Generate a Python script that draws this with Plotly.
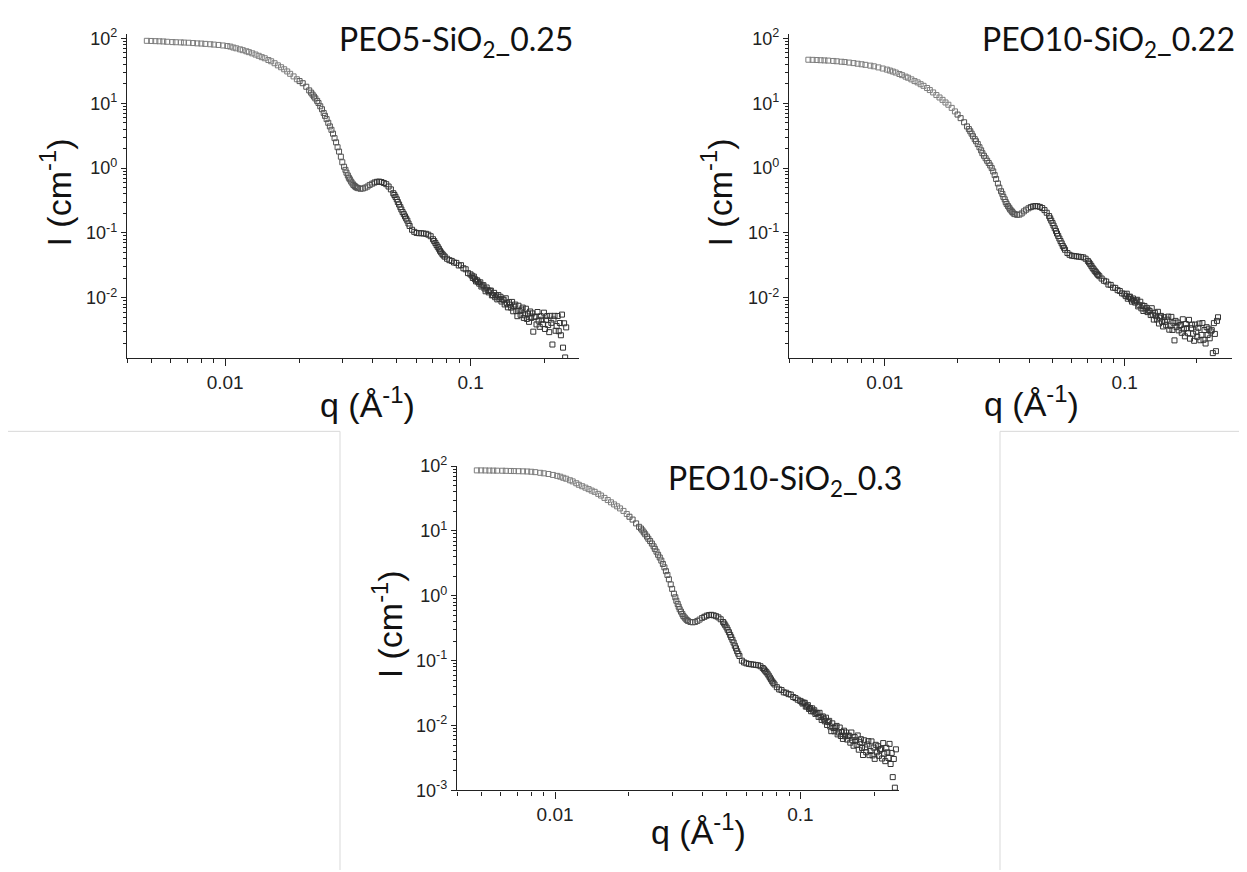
import math
import plotly.graph_objects as go

# ---------------- data ----------------
q = [
    # plateau
    0.0048, 0.0050, 0.0052, 0.0054, 0.0056, 0.0058, 0.0061, 0.0063, 0.0066, 0.0068,
    0.0071, 0.0074, 0.0077, 0.0080, 0.0083, 0.0087, 0.0090, 0.0094, 0.0098,
    # Guinier knee
    0.0102, 0.0105, 0.0108, 0.0111, 0.0115, 0.0118, 0.0122, 0.0125, 0.0129, 0.0133,
    0.0137, 0.0141, 0.0145, 0.0150, 0.0154, 0.0159, 0.0164, 0.0169, 0.0174, 0.0179,
    0.0184, 0.0190, 0.0196, 0.0201, 0.0207, 0.0214,
    # steep drop
    0.0220, 0.0224, 0.0227, 0.0230, 0.0233, 0.0237, 0.0240, 0.0244, 0.0248, 0.0252,
    0.0255, 0.0259, 0.0263, 0.0267, 0.0271, 0.0275, 0.0279, 0.0283, 0.0287, 0.0291,
    0.0296, 0.0300,
    # first minimum
    0.0305, 0.0309, 0.0312, 0.0316, 0.0319, 0.0322, 0.0326, 0.0330, 0.0333, 0.0337,
    0.0340, 0.0344,
    # first maximum
    0.0348, 0.0356, 0.0364, 0.0372, 0.0380, 0.0388, 0.0397, 0.0406, 0.0415, 0.0424,
    0.0433, 0.0443, 0.0453, 0.0463, 0.0473, 0.0484,
    0.0489, 0.0494, 0.0500, 0.0505, 0.0511, 0.0517, 0.0522, 0.0528, 0.0534, 0.0540,
    0.0546, 0.0552, 0.0558, 0.0564,
    # second shoulder
    0.0577, 0.0589, 0.0602, 0.0616, 0.0629, 0.0643, 0.0658, 0.0672, 0.0687, 0.0702,
    0.0710, 0.0718,
    0.0726, 0.0734, 0.0742, 0.0750, 0.0758, 0.0767, 0.0775, 0.0784, 0.0801, 0.0819,
    0.0837, 0.0855,
    0.0874, 0.0894, 0.0913, 0.0934, 0.0954, 0.0975, 0.0997,
    # noisy high-q tail
    0.1010, 0.1020, 0.1030, 0.1041, 0.1051, 0.1062, 0.1072, 0.1083, 0.1094, 0.1105,
    0.1116, 0.1127, 0.1138, 0.1150, 0.1161, 0.1173, 0.1185, 0.1196, 0.1208, 0.1220,
    0.1233, 0.1245, 0.1257, 0.1270, 0.1283, 0.1296, 0.1309, 0.1322, 0.1335, 0.1348,
    0.1362, 0.1375, 0.1389, 0.1403, 0.1417, 0.1431, 0.1445, 0.1460, 0.1474, 0.1489,
    0.1504, 0.1519, 0.1534, 0.1549, 0.1565, 0.1581, 0.1596, 0.1612, 0.1628, 0.1645,
    0.1661, 0.1678, 0.1694, 0.1711, 0.1728, 0.1746, 0.1763, 0.1781, 0.1798, 0.1816,
    0.1835, 0.1853, 0.1871, 0.1890, 0.1909, 0.1928, 0.1947, 0.1967, 0.1987, 0.2006,
    0.2026, 0.2047, 0.2067, 0.2088, 0.2109, 0.2130, 0.2151, 0.2173, 0.2194, 0.2216,
    0.2238, 0.2261, 0.2283, 0.2306, 0.2329, 0.2353, 0.2376, 0.2400, 0.2424, 0.2448,
]

I_peo5_025 = [
    92, 91.5, 91, 90.5, 90, 89, 88, 87.5, 87, 86.5,
    86, 85, 84, 83.5, 82.5, 81.5, 80.5, 79.5, 78,
    76.5, 75, 72.5, 70.5, 68, 66, 63.5, 61.5, 59, 56.5,
    54, 51.5, 49.5, 46.5, 44.5, 41.5, 38.5, 36, 33.5, 31,
    28.5, 26, 23.5, 22, 20.4, 18,
    15.8, 14.6, 13.6, 12.7, 11.9, 10.9, 10.1, 9.0, 8.1, 7.1,
    6.4, 5.7, 5.0, 4.4, 3.9, 3.4, 2.9, 2.5, 2.1, 1.8,
    1.5, 1.23,
    1.05, 0.94, 0.85, 0.77, 0.71, 0.67, 0.62, 0.58, 0.55, 0.53,
    0.51, 0.50,
    0.49, 0.48, 0.485, 0.50, 0.52, 0.55, 0.575, 0.60, 0.615, 0.62,
    0.61, 0.59, 0.565, 0.52, 0.47, 0.41,
    0.385, 0.36, 0.33, 0.30, 0.275, 0.25, 0.23, 0.21, 0.195, 0.18,
    0.167, 0.155, 0.14, 0.128,
    0.112, 0.104, 0.100, 0.099, 0.099, 0.098, 0.097, 0.094, 0.089, 0.080,
    0.075, 0.070,
    0.065, 0.061, 0.057, 0.053, 0.050, 0.047, 0.045, 0.043, 0.040, 0.038,
    0.037, 0.035,
    0.0345, 0.0315, 0.0318, 0.0285, 0.0275, 0.0240, 0.0230,
    0.0220, 0.0202, 0.0212, 0.0193, 0.0179, 0.0186, 0.0176, 0.0165, 0.0173, 0.0149,
    0.0155, 0.0156, 0.0139, 0.0126, 0.0144, 0.0131, 0.0121, 0.0128, 0.0129, 0.0109,
    0.0110, 0.0119, 0.0102, 0.0108, 0.00944, 0.0110, 0.00962, 0.01035, 0.00875, 0.00942,
    0.00935, 0.00789, 0.00982, 0.00815, 0.00711, 0.00855, 0.00783, 0.00705, 0.00863, 0.00619,
    0.00733, 0.00785, 0.00625, 0.0052, 0.00753, 0.00627, 0.00546, 0.00658, 0.00705, 0.00489,
    0.00536, 0.00678, 0.00471, 0.0057, 0.00425, 0.00614, 0.00489, 0.00574, 0.0030, 0.00507,
    0.00513, 0.00388, 0.00603, 0.00443, 0.00356, 0.0052, 0.00458, 0.00391, 0.00589, 0.0033,
    0.00459, 0.00522, 0.00379, 0.00295, 0.00526, 0.0041, 0.0019, 0.00462, 0.00526, 0.0031,
    0.00366, 0.00524, 0.00305, 0.00408, 0.00264, 0.0055, 0.0017, 0.00404, 0.0012, 0.00349,
]

I_peo10_022 = [
    47, 46.8, 46.5, 46.2, 45.9, 45.6, 45, 44.5, 43.8, 43.3,
    42.5, 41.7, 40.8, 40, 39.2, 38.1, 37.2, 35.8, 34.4,
    33.1, 32, 30.9, 29.8, 28.3, 27.2, 25.8, 24.8, 23.4, 22,
    21, 19.7, 18.6, 17.2, 16.0, 14.7, 13.4, 12.3, 11.3, 10.3,
    9.5, 8.5, 7.5, 6.7, 5.9, 5.1,
    4.4, 4.0, 3.7, 3.4, 3.1, 2.8, 2.6, 2.35, 2.1, 1.88,
    1.7, 1.55, 1.42, 1.3, 1.2, 1.1, 1.0, 0.89, 0.78, 0.68,
    0.58, 0.50,
    0.44, 0.40, 0.36, 0.33, 0.30, 0.28, 0.26, 0.245, 0.23, 0.22,
    0.21, 0.20,
    0.195, 0.19, 0.192, 0.20, 0.215, 0.228, 0.24, 0.25, 0.257, 0.26,
    0.258, 0.252, 0.242, 0.225, 0.205, 0.182,
    0.168, 0.155, 0.142, 0.13, 0.118, 0.107, 0.098, 0.09, 0.082, 0.075,
    0.069, 0.063, 0.059, 0.055,
    0.049, 0.046, 0.0445, 0.044, 0.0435, 0.043, 0.0425, 0.042, 0.040, 0.037,
    0.035, 0.033,
    0.031, 0.029, 0.0275, 0.026, 0.0248, 0.0235, 0.0225, 0.0215, 0.0198, 0.0183,
    0.0178, 0.0160,
    0.0158, 0.0143, 0.0142, 0.0131, 0.0127, 0.0117, 0.0113,
    0.0106, 0.01155, 0.00967, 0.0103, 0.0104, 0.00944, 0.00871, 0.00975, 0.0090, 0.00844,
    0.00906, 0.00931, 0.00736, 0.00767, 0.00869, 0.00687, 0.00759, 0.00625, 0.00748, 0.00661,
    0.00698, 0.00601, 0.00637, 0.00628, 0.00541, 0.0069, 0.00547, 0.00461, 0.00587, 0.00527,
    0.00463, 0.00607, 0.00401, 0.00493, 0.00525, 0.00426, 0.00361, 0.00502, 0.00426, 0.00376,
    0.0046, 0.00512, 0.00322, 0.0037, 0.00507, 0.00319, 0.00412, 0.0022, 0.0044, 0.00352,
    0.00415, 0.00314, 0.00372, 0.0038, 0.00288, 0.00466, 0.00327, 0.00254, 0.00394, 0.0034,
    0.00284, 0.00456, 0.00234, 0.00339, 0.00385, 0.00279, 0.00217, 0.00386, 0.00301, 0.0025,
    0.00344, 0.0040, 0.00221, 0.00267, 0.00407, 0.00225, 0.00318, 0.00197, 0.00352, 0.00266,
    0.00334, 0.00237, 0.00302, 0.00316, 0.0014, 0.00406, 0.00277, 0.0015, 0.0044, 0.0050,
]

I_peo10_03 = [
    86, 86, 85.8, 85.6, 85.4, 85.2, 85, 84.7, 84.3, 84,
    83.6, 83.2, 82.8, 82, 80.8, 79, 77.5, 75.7, 73.2,
    70.8, 68.8, 66.2, 64, 60.6, 58.2, 54.5, 51.6, 49, 46.6,
    44.2, 42, 40.2, 37.4, 35.2, 32.4, 30, 27.7, 25.7, 24,
    22.3, 20.4, 18.3, 16.6, 15, 13.1,
    11.6, 10.9, 10.2, 9.5, 8.9, 8.2, 7.6, 7.0, 6.4, 5.8,
    5.3, 4.8, 4.3, 3.9, 3.5, 3.1, 2.75, 2.4, 2.1, 1.8,
    1.5, 1.28,
    1.08, 0.95, 0.84, 0.75, 0.68, 0.62, 0.57, 0.525, 0.49, 0.465,
    0.445, 0.425,
    0.41, 0.395, 0.39, 0.395, 0.41, 0.43, 0.455, 0.475, 0.495, 0.505,
    0.51, 0.50, 0.485, 0.465, 0.435, 0.395,
    0.373, 0.35, 0.325, 0.30, 0.275, 0.25, 0.23, 0.21, 0.19, 0.17,
    0.155, 0.14, 0.128, 0.118,
    0.10, 0.094, 0.091, 0.089, 0.088, 0.087, 0.086, 0.085, 0.082, 0.077,
    0.0735, 0.070,
    0.0665, 0.063, 0.059, 0.055, 0.0515, 0.048, 0.0455, 0.043, 0.039, 0.036,
    0.0352, 0.0325,
    0.032, 0.0305, 0.0300, 0.0275, 0.0265, 0.025, 0.024,
    0.0233, 0.0218, 0.0225, 0.0224, 0.0196, 0.0197, 0.0206, 0.0180, 0.0186, 0.0166,
    0.0184, 0.0165, 0.0172, 0.0151, 0.0157, 0.0155, 0.0136, 0.0157, 0.0136, 0.0122,
    0.0138, 0.0127, 0.0116, 0.0132, 0.0102, 0.0113, 0.0118, 0.00964, 0.00818, 0.0108,
    0.00916, 0.00815, 0.00938, 0.00986, 0.0073, 0.0078, 0.00931, 0.00689, 0.00794, 0.00621,
    0.00832, 0.00682, 0.0078, 0.00608, 0.00693, 0.00697, 0.00544, 0.0078, 0.00593, 0.00488,
    0.00664, 0.00586, 0.00504, 0.00702, 0.00424, 0.00553, 0.00615, 0.0045, 0.00351, 0.00592,
    0.00461, 0.00387, 0.0051, 0.00574, 0.00349, 0.00405, 0.00569, 0.00346, 0.00457, 0.00306,
    0.00504, 0.00386, 0.00479, 0.00341, 0.00423, 0.00436, 0.0031, 0.00536, 0.00368, 0.00282,
    0.00453, 0.00385, 0.00316, 0.00521, 0.00255, 0.00378, 0.0016, 0.00305, 0.0011, 0.00429,
]

panel_labels = [
    "PEO5-SiO<sub>2</sub>_0.25",
    "PEO10-SiO<sub>2</sub>_0.22",
    "PEO10-SiO<sub>2</sub>_0.3",
]
series = [I_peo5_025, I_peo10_022, I_peo10_03]

x_major = [0.01, 0.1]
x_major_text = ["0.01", "0.1"]
y_major_exp = [-3, -2, -1, 0, 1, 2]

for s in series:
    assert len(s) == len(q), (len(s), len(q))

# ---------------- layout helpers ----------------
W, H = 1247, 872
OFF = 8  # the page body margin shifts the figure by 8 px


def fx(px):
    return (px - OFF) / W


def fy(py):
    return 1 - (py - OFF) / H


# plot-area boxes in page pixels: (left, right, top, bottom), x max, y log range
boxes = [
    dict(l=127, r=579, t=22.3, b=354.8, qmax=0.276, ylo=-2.93, yhi=2.07,
         ytitle=(56, 185), xtitle=(367, 400), label=(575, 30)),
    dict(l=789, r=1232, t=22.3, b=354.8, qmax=0.28, ylo=-2.93, yhi=2.07,
         ytitle=(717, 185), xtitle=(1031, 399), label=(1237, 30)),
    dict(l=457, r=899, t=465.7, b=798.3, qmax=0.252, ylo=-3.0, yhi=2.0,
         ytitle=(387, 628), xtitle=(698, 838), label=(904, 480)),
]

x_minor = [k * 10 ** n for n in (-3, -2, -1) for k in range(2, 10)]
y_minor = [k * 10.0 ** n for n in range(-4, 3) for k in range(2, 10)]

# marker shade: isolated squares at low q look grey, dense overlap is near black
marker_colors = ["#7d7d7d" if v < 0.02 else ("#555555" if v < 0.04 else "#333333") for v in q]

AX = "#222222"
XTICKFONT = dict(family="Arial", size=19, color="#222222")
YTICKFONT = dict(family="Arial", size=18, color="#222222")
TITLEFONT = dict(family="Arial", size=34, color="#111111")
LABELFONT = dict(family="Lato", size=32, color="#111111")

fig = go.Figure()
layout = dict(
    width=W, height=H,
    margin=dict(l=0, r=0, t=0, b=0),
    paper_bgcolor="white", plot_bgcolor="white",
    showlegend=False,
    annotations=[], shapes=[],
)

for i, (b, s, lab) in enumerate(zip(boxes, series, panel_labels)):
    n = "" if i == 0 else str(i + 1)
    xa, ya = "x" + n, "y" + n
    fig.add_trace(go.Scatter(
        x=q, y=s, mode="markers", xaxis=xa, yaxis=ya,
        marker=dict(symbol="square-open", size=5, color=marker_colors,
                    line=dict(width=1, color=marker_colors)),
        hoverinfo="skip",
    ))
    keep = [e for e in y_major_exp if b["ylo"] - 1e-6 <= e <= b["yhi"]]
    yv = [10.0 ** e for e in keep]
    yt = ["10<sup>%d</sup>" % e for e in keep]
    layout["xaxis" + n] = dict(
        type="log", domain=[fx(b["l"]), fx(b["r"])], anchor=ya,
        range=[-2.3995, math.log10(b["qmax"])],
        showline=True, linecolor=AX, linewidth=1.3, mirror=False,
        ticks="outside", ticklen=7, tickwidth=1.2, tickcolor=AX,
        tickmode="array", tickvals=x_major, ticktext=x_major_text,
        tickfont=XTICKFONT,
        minor=dict(tickmode="array", tickvals=x_minor, ticks="outside",
                   ticklen=4, tickwidth=1, tickcolor=AX, showgrid=False),
        showgrid=False, zeroline=False,
    )
    layout["yaxis" + n] = dict(
        type="log", domain=[fy(b["b"]), fy(b["t"])], anchor=xa,
        range=[b["ylo"], b["yhi"]],
        showline=True, linecolor=AX, linewidth=1.3, mirror=False,
        ticks="outside", ticklen=5, tickwidth=1.2, tickcolor=AX,
        tickmode="array", tickvals=yv, ticktext=yt,
        tickfont=YTICKFONT,
        minor=dict(tickmode="array", tickvals=y_minor, ticks="outside",
                   ticklen=3, tickwidth=1, tickcolor=AX, showgrid=False),
        showgrid=False, zeroline=False,
    )
    layout["annotations"].append(dict(
        xref="paper", yref="paper", x=fx(b["ytitle"][0]), y=fy(b["ytitle"][1]),
        text="I (cm<sup>-1</sup>)", textangle=-90, showarrow=False,
        xanchor="center", yanchor="middle", font=TITLEFONT))
    layout["annotations"].append(dict(
        xref="paper", yref="paper", x=fx(b["xtitle"][0]), y=fy(b["xtitle"][1]),
        text="q (Å<sup>-1</sup>)", showarrow=False,
        xanchor="center", yanchor="middle", font=TITLEFONT))
    layout["annotations"].append(dict(
        xref="paper", yref="paper", x=fx(b["label"][0]), y=fy(b["label"][1]),
        text=lab, showarrow=False,
        xanchor="right", yanchor="middle", font=LABELFONT))

# faint table border lines around the lower panel
BORDER = dict(color="#d9d9d9", width=1)
for (x0, y0, x1, y1) in [(8, 430, 340, 430), (340, 430, 340, 880),
                         (1000, 430, 1260, 430), (1000, 430, 1000, 880)]:
    layout["shapes"].append(dict(type="line", xref="paper", yref="paper",
                                 x0=fx(x0), y0=fy(y0), x1=fx(x1), y1=fy(y1),
                                 line=BORDER))

fig.update_layout(**layout)
fig.write_html("out.html")
